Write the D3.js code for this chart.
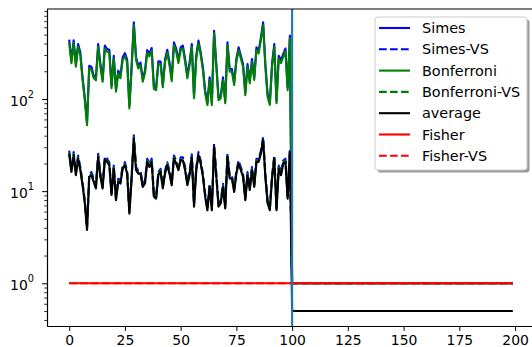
<!DOCTYPE html>
<html>
<head>
<meta charset="utf-8">
<script src="https://cdn.jsdelivr.net/npm/d3@7"></script>
<style>
  body { margin: 0; background: #fff; }
  text { font-family: "DejaVu Sans", sans-serif; }
</style>
</head>
<body>
<svg id="chart" width="532" height="347"></svg>
<script>
// first 100 runs, then the constant tail after the switch at x=100
const simes = [440, 262, 434, 240, 395, 321, 172, 104, 56, 230, 223, 180, 171, 395, 240, 165, 380, 349, 342, 140,
  295, 128, 203, 180, 284, 314, 268, 85, 225, 680, 284, 230, 249, 165, 203, 340, 310, 358, 137, 134,
  257, 255, 143, 268, 342, 249, 167, 412, 353, 262, 364, 380, 272, 180, 249, 395, 109, 295, 430, 321,
  220, 123, 92, 172, 92, 551, 240, 104, 109, 172, 96, 412, 212, 212, 152, 272, 364, 295, 240, 118,
  240, 158, 272, 172, 364, 335, 467, 680, 240, 113, 92, 240, 395, 96, 295, 262, 307, 353, 134, 487];
const bonferroni = [410, 244, 405, 224, 369, 300, 161, 97, 52, 215, 208, 168, 160, 369, 224, 154, 355, 326, 320, 131,
  276, 120, 190, 168, 265, 293, 250, 79, 210, 635, 265, 215, 233, 154, 190, 318, 290, 335, 128, 125,
  240, 238, 134, 250, 320, 233, 156, 385, 330, 245, 340, 355, 254, 168, 233, 369, 102, 276, 402, 300,
  206, 115, 86, 161, 86, 515, 224, 97, 102, 161, 90, 385, 198, 198, 142, 254, 340, 276, 224, 110,
  224, 148, 254, 161, 340, 313, 436, 635, 224, 106, 86, 224, 369, 90, 276, 245, 287, 330, 125, 455];
const simesVS = [27.6, 17.5, 26.5, 16.1, 24.4, 18.3, 12.5, 8.0, 4.1, 15.4, 16.1, 13.6, 11.6, 25.5, 15.4, 11.6, 23.8, 22.5, 20.6, 9.8,
  19.0, 8.6, 13.6, 13.1, 19.0, 20.6, 16.7, 6.2, 14.6, 40.3, 18.3, 16.7, 16.7, 12.0, 13.1, 22.5, 19.8, 22.5, 9.4, 9.0,
  16.1, 17.5, 11.6, 16.7, 20.6, 16.7, 12.5, 24.4, 21.5, 18.3, 23.3, 23.3, 18.3, 12.5, 16.1, 25.1, 7.3, 18.3, 26.5, 21.5,
  15.4, 9.4, 6.7, 12.0, 6.7, 32.6, 15.4, 7.3, 8.0, 12.0, 7.0, 25.5, 14.8, 14.8, 10.6, 16.7, 21.5, 18.3, 15.4, 8.6,
  16.1, 11.1, 18.3, 12.0, 22.5, 22.5, 27.6, 38.6, 15.4, 8.0, 6.7, 14.8, 24.4, 6.7, 19.0, 16.1, 21.5, 22.5, 9.0, 28.8];
const bonferroniVS = [26.3, 16.7, 25.2, 15.3, 23.3, 17.4, 11.9, 7.6, 3.9, 14.7, 15.3, 13.0, 11.0, 24.3, 14.7, 11.0, 22.7, 21.4, 19.7, 9.4,
  18.1, 8.2, 13.0, 12.5, 18.1, 19.7, 16.0, 5.9, 13.9, 38.4, 17.4, 16.0, 16.0, 11.4, 12.5, 21.4, 18.8, 21.4, 9.0, 8.5,
  15.3, 16.7, 11.0, 16.0, 19.7, 16.0, 11.9, 23.3, 20.5, 17.4, 22.2, 22.2, 17.4, 11.9, 15.3, 23.9, 7.0, 17.4, 25.2, 20.5,
  14.7, 9.0, 6.4, 11.4, 6.4, 31.1, 14.7, 7.0, 7.6, 11.4, 6.7, 24.3, 14.1, 14.1, 10.1, 16.0, 20.5, 17.4, 14.7, 8.2,
  15.3, 10.6, 17.4, 11.4, 21.4, 21.4, 26.3, 36.8, 14.7, 7.6, 6.4, 14.1, 23.3, 6.4, 18.1, 15.3, 20.5, 21.4, 8.5, 27.5];
const average = [25.6, 16.2, 24.5, 14.9, 22.6, 16.9, 11.6, 7.4, 3.8, 14.3, 14.9, 12.6, 10.7, 23.6, 14.3, 10.7, 22.0, 20.8, 19.1, 9.1,
  17.6, 8.0, 12.6, 12.1, 17.6, 19.1, 15.5, 5.7, 13.5, 37.3, 16.9, 15.5, 15.5, 11.1, 12.1, 20.8, 18.3, 20.8, 8.7, 8.3,
  14.9, 16.2, 10.7, 15.5, 19.1, 15.5, 11.6, 22.6, 19.9, 16.9, 21.6, 21.6, 16.9, 11.6, 14.9, 23.2, 6.8, 16.9, 24.5, 19.9,
  14.3, 8.7, 6.2, 11.1, 6.2, 30.2, 14.3, 6.8, 7.4, 11.1, 6.5, 23.6, 13.7, 13.7, 9.8, 15.5, 19.9, 16.9, 14.3, 8.0,
  14.9, 10.3, 16.9, 11.1, 20.8, 20.8, 25.6, 35.7, 14.3, 7.4, 6.2, 13.7, 22.6, 6.2, 17.6, 14.9, 19.9, 20.8, 8.3, 26.7];
const tailValue = 1;      // Simes / Bonferroni (and -VS) after x=100
const tailAverage = 0.5;  // average after x=100
const fisherValue = 1;    // Fisher and Fisher-VS over the whole run
const nRuns = 200;
const switchAt = 100;

const xTicks = [0, 25, 50, 75, 100, 125, 150, 175, 200];
const yMajor = [1, 10, 100];
const yMinor = [0.4, 0.5, 0.6, 0.7, 0.8, 0.9, 2, 3, 4, 5, 6, 7, 8, 9,
  20, 30, 40, 50, 60, 70, 80, 90, 200, 300, 400, 500, 600, 700, 800, 900];

const tail = (v) => new Array(nRuns - switchAt).fill(v);
const series = [
  { name: 'Simes', color: 'blue', dash: null, values: simes.concat(tail(tailValue)) },
  { name: 'Simes-VS', color: 'blue', dash: '7.7,3.3', values: simesVS.concat(tail(tailValue)) },
  { name: 'Bonferroni', color: 'green', dash: null, values: bonferroni.concat(tail(tailValue)) },
  { name: 'Bonferroni-VS', color: 'green', dash: '7.7,3.3', values: bonferroniVS.concat(tail(tailValue)) },
  { name: 'average', color: 'black', dash: null, values: average.concat(tail(tailAverage)) },
  { name: 'Fisher', color: 'red', dash: null, values: new Array(nRuns).fill(fisherValue) },
  { name: 'Fisher-VS', color: 'red', dash: '7.7,3.3', values: new Array(nRuns).fill(fisherValue) }
];

const margin = { top: 9, left: 47, right: 535, bottom: 326 };
const svg = d3.select('#chart');

const x = d3.scaleLinear().domain([-9.95, 208.95]).range([margin.left, margin.right]);
const y = d3.scaleLog().domain([0.344, 948]).range([margin.bottom, margin.top]);

svg.append('defs').append('clipPath').attr('id', 'plot')
  .append('rect')
  .attr('x', margin.left).attr('y', margin.top)
  .attr('width', margin.right - margin.left).attr('height', margin.bottom - margin.top);

// lines
const line = d3.line().x((d, i) => x(i)).y(d => y(d));
const plot = svg.append('g').attr('clip-path', 'url(#plot)');
series.forEach(s => {
  plot.append('path')
    .datum(s.values)
    .attr('d', line)
    .attr('fill', 'none')
    .attr('stroke', s.color)
    .attr('stroke-width', 2.1)
    .attr('stroke-dasharray', s.dash)
    .attr('stroke-linejoin', 'round');
});

// switch marker
plot.append('line')
  .attr('x1', x(switchAt)).attr('x2', x(switchAt))
  .attr('y1', margin.top).attr('y2', margin.bottom)
  .attr('stroke', '#1f77b4').attr('stroke-width', 2.1);

// x axis
const xAxis = svg.append('g')
  .attr('transform', `translate(0,${margin.bottom})`)
  .call(d3.axisBottom(x).tickValues(xTicks).tickSize(4.9).tickPadding(4).tickSizeOuter(0));
xAxis.selectAll('text').attr('font-size', 13.9).attr('fill', '#000').style('font-family', '"DejaVu Sans", sans-serif');

// y axis: minor ticks, then majors with 10^k labels
svg.append('g')
  .attr('transform', `translate(${margin.left},0)`)
  .call(d3.axisLeft(y).tickValues(yMinor).tickSize(2.8).tickFormat('').tickSizeOuter(0))
  .call(g => g.selectAll('.tick line').attr('stroke-width', 0.8));
const yAxis = svg.append('g')
  .attr('transform', `translate(${margin.left},0)`)
  .call(d3.axisLeft(y).tickValues(yMajor).tickSize(4.9).tickFormat('').tickSizeOuter(0));
yAxis.selectAll('.tick').each(function (d) {
  const t = d3.select(this).append('text')
    .attr('x', -13).attr('y', 6)
    .attr('text-anchor', 'end')
    .attr('fill', '#000')
    .attr('font-size', 13.9);
  t.append('tspan').text('10');
  t.append('tspan').attr('dy', -7.5).attr('font-size', 9.8).text(Math.round(Math.log10(d)));
});
svg.selectAll('.domain').attr('stroke', '#000').attr('stroke-width', 1.1);

// top spine (right spine falls outside the picture)
svg.append('line')
  .attr('x1', margin.left).attr('x2', margin.right)
  .attr('y1', margin.top).attr('y2', margin.top)
  .attr('stroke', '#000').attr('stroke-width', 1.1);

// legend
const lg = svg.append('g').attr('transform', 'translate(375,17)');
lg.append('rect').attr('x', 2.5).attr('y', 2.5).attr('width', 152).attr('height', 153)
  .attr('rx', 3).attr('fill', '#9a9a9a');
lg.append('rect').attr('width', 152).attr('height', 153)
  .attr('rx', 3).attr('fill', '#fff').attr('stroke', '#cccccc').attr('stroke-width', 1);
series.forEach((s, i) => {
  const row = lg.append('g').attr('transform', `translate(0,${11 + i * 21.3})`);
  row.append('line').attr('x1', 4).attr('x2', 35).attr('y1', 0).attr('y2', 0)
    .attr('stroke', s.color).attr('stroke-width', 2.1).attr('stroke-dasharray', s.dash);
  row.append('text').attr('x', 47).attr('y', 5).attr('font-size', 14.4).attr('fill', '#000').text(s.name);
});
</script>
</body>
</html>
